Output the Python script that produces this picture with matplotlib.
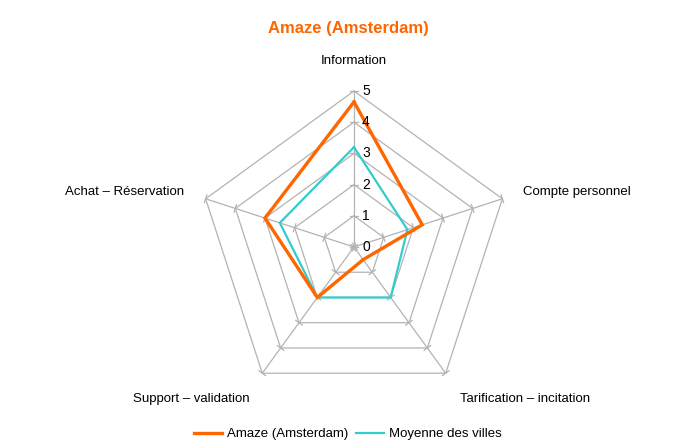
import numpy as np
import matplotlib
matplotlib.use("Agg")
import matplotlib.pyplot as plt
from matplotlib.lines import Line2D

plt.rcParams['font.family'] = ['Liberation Sans', 'DejaVu Sans']

categories = ["Information", "Compte personnel", "Tarification – incitation",
              "Support – validation", "Achat – Réservation"]
amaze = [4.65, 2.3, 0.5, 2.0, 3.0]
moyenne = [3.2, 1.8, 2.0, 2.0, 2.5]
levels = [0, 1, 2, 3, 4, 5]
title = "Amaze (Amsterdam)"
series_names = ["Amaze (Amsterdam)", "Moyenne des villes"]

ORANGE = "#FF6600"
CYAN = "#33CCCC"
GRID = "#B3B3B3"

W, H = 694, 446
fig = plt.figure(figsize=(W / 100, H / 100), dpi=100)
unit = 31.2
L = 6.0
cx, cy = 354, 247
axw = 2 * L * unit
ax = fig.add_axes([(cx - axw / 2) / W, (H - cy - axw / 2) / H, axw / W, axw / H])
ax.set_xlim(-L, L)
ax.set_ylim(-L, L)
ax.set_aspect('equal')
ax.axis('off')

n = len(categories)
angles = np.pi / 2 - 2 * np.pi * np.arange(n) / n


def xy(vals):
    v = np.asarray(vals, float)
    return v * np.cos(angles), v * np.sin(angles)


# grid rings
for lv in levels[1:]:
    x, y = xy([lv] * n)
    ax.plot(np.append(x, x[0]), np.append(y, y[0]), color=GRID, lw=0.9, zorder=1)
# spokes and tick marks
tl = 0.13
for a in angles:
    ax.plot([0, levels[-1] * np.cos(a)], [0, levels[-1] * np.sin(a)], color=GRID, lw=0.9, zorder=1)
    px, py = -np.sin(a), np.cos(a)
    for lv in levels:
        bx, by = lv * np.cos(a), lv * np.sin(a)
        ax.plot([bx - tl * px, bx + tl * px], [by - tl * py, by + tl * py], color=GRID, lw=0.9, zorder=1)

# tick labels
for lv in levels:
    ax.text(0.26, lv, str(lv), ha='left', va='center', fontsize=10, color='black', zorder=3)

# series
for vals, col, lw in [(moyenne, CYAN, 1.6), (amaze, ORANGE, 2.4)]:
    x, y = xy(vals)
    ax.plot(np.append(x, x[0]), np.append(y, y[0]), color=col, lw=lw, zorder=2,
            solid_joinstyle='miter')

# category labels
label_pos = [(0, 5.97), (7.15, 1.77), (5.48, -4.88), (-5.22, -4.88), (-7.34, 1.77)]
for (lx, ly), c in zip(label_pos, categories):
    ax.text(lx, ly, c, ha='center', va='center', fontsize=9.5, color='black', clip_on=False)

fig.text(348 / W, 1 - 28 / H, title, ha='center', va='center', fontsize=12,
         fontweight='bold', color=ORANGE)

handles = [Line2D([], [], color=ORANGE, lw=2.4), Line2D([], [], color=CYAN, lw=1.6)]
fig.legend(handles, series_names, loc='center', bbox_to_anchor=(348 / W, 1 - 434 / H),
           ncol=2, frameon=False, fontsize=9.5, handlelength=2.1, handletextpad=0.4,
           columnspacing=0.6)

fig.savefig("out.png", dpi=100)
